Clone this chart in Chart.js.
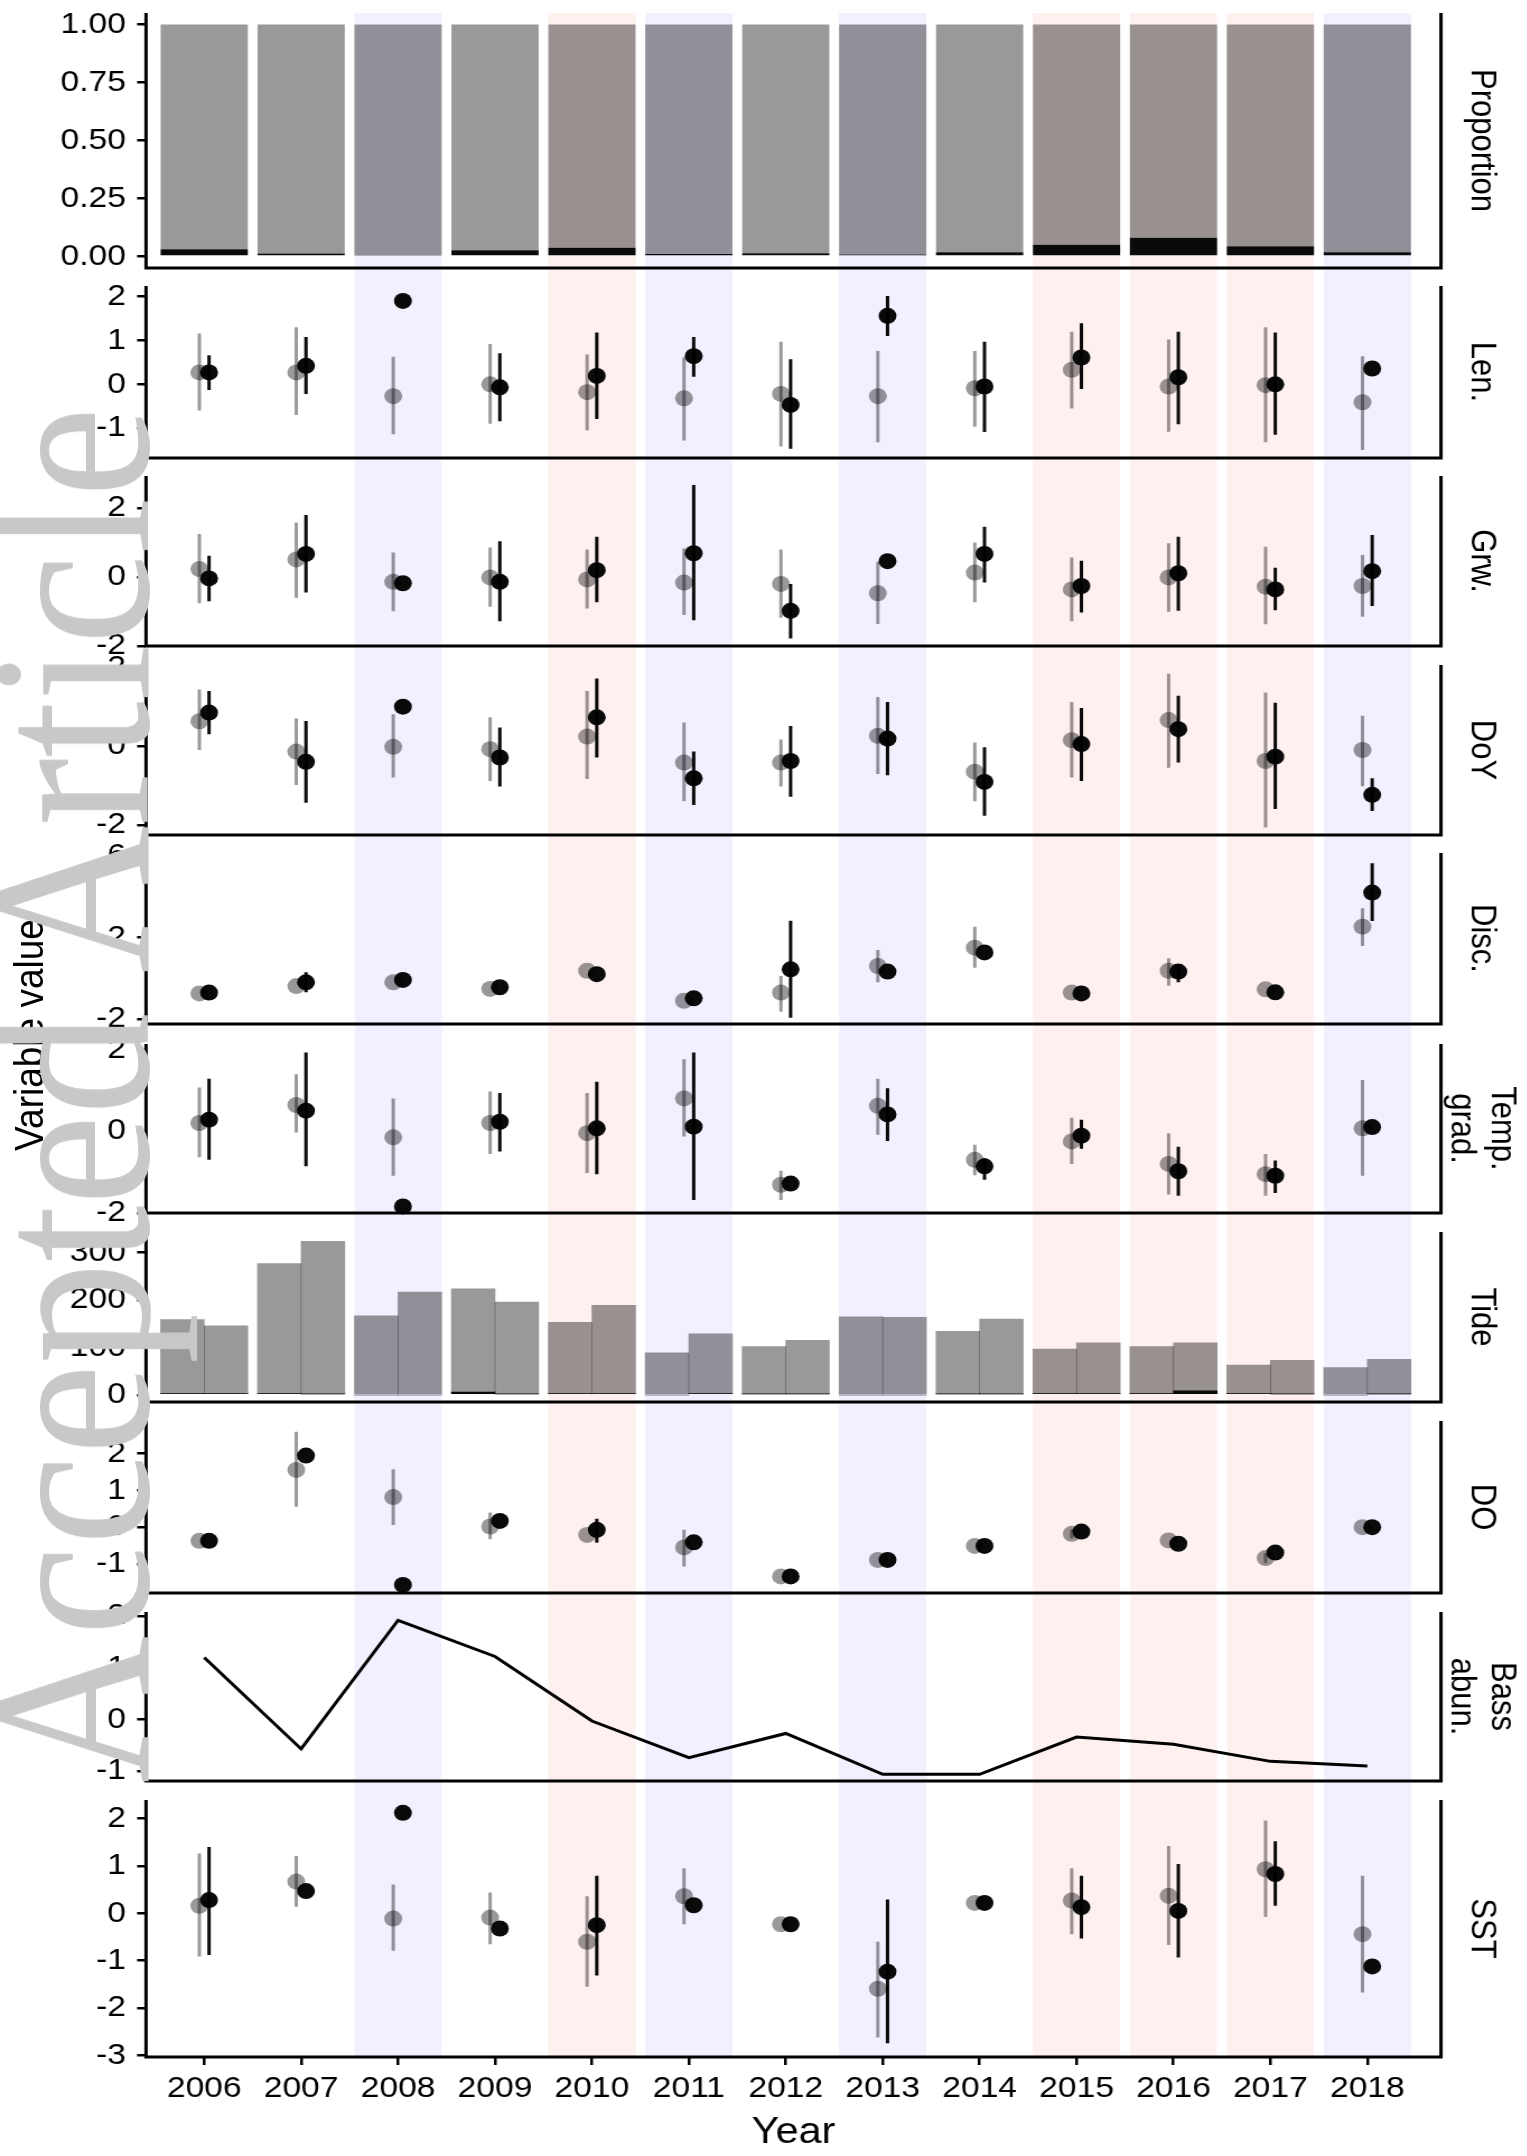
<!DOCTYPE html>
<html>
<head>
<meta charset="utf-8">
<script src="https://cdn.jsdelivr.net/npm/chart.js@4.4.0/dist/chart.umd.min.js"></script>
<style>
html, body { margin: 0; padding: 0; background: #fff; overflow: hidden; }
#fig { position: absolute; left: 0; top: 0; width: 1363px; height: 2156px; transform: scaleX(1.12); transform-origin: 0 0; }
#fig canvas { position: absolute; left: 0; }
.vtext { position: absolute; white-space: nowrap; line-height: 1; transform: translate(-50%, -50%) rotate(-90deg); }
#ytitle { font-family: "Liberation Sans", Arial, sans-serif; font-size: 37px; color: #000; }
#wm { font-family: "Liberation Serif", "Times New Roman", serif; font-size: 204px; color: #c8c8c8; z-index: 5; }
</style>
</head>
<body>
<div id="fig">
  <div id="ytitle" class="vtext" style="left:26px; top:1035px;">Variable value</div>
</div>
<script>
const years = [2006, 2007, 2008, 2009, 2010, 2011, 2012, 2013, 2014, 2015, 2016, 2017, 2018];
const blueYears = [2008, 2011, 2013, 2018];
const redYears = [2010, 2015, 2016, 2017];
const stripLabels = [['Proportion'], ['Len.'], ['Grw.'], ['DoY'], ['Disc.'], ['Temp.', 'grad.'], ['Tide'], ['DO'], ['Bass', 'abun.'], ['SST']];

// Proportion
const propBlack = [0.031, 0.013, 0.006, 0.027, 0.037, 0.010, 0.014, 0.008, 0.018, 0.050, 0.080, 0.044, 0.018];
const propGrey  = [0.969, 0.987, 0.994, 0.973, 0.963, 0.990, 0.986, 0.992, 0.982, 0.950, 0.920, 0.956, 0.982];
const propTicks = [0, 0.25, 0.5, 0.75, 1];

// Len.
const lenGrey    = [0.27, 0.27, -0.27, 0.00, -0.18, -0.32, -0.22, -0.27, -0.09, 0.33, -0.05, -0.02, -0.41];
const lenGreyLo  = [-0.60, -0.70, -1.14, -0.90, -1.05, -1.28, -1.42, -1.32, -0.97, -0.55, -1.08, -1.32, -1.50];
const lenGreyHi  = [1.16, 1.30, 0.63, 0.92, 0.68, 0.61, 0.97, 0.76, 0.76, 1.20, 1.02, 1.30, 0.64];
const lenBlack   = [0.27, 0.42, 1.90, -0.07, 0.19, 0.64, -0.47, 1.56, -0.05, 0.61, 0.16, 0.00, 0.36];
const lenBlackLo = [-0.13, -0.22, null, -0.84, -0.79, 0.17, -1.47, 1.10, -1.09, -0.11, -0.91, -1.15, null];
const lenBlackHi = [0.66, 1.08, null, 0.71, 1.18, 1.08, 0.57, 2.01, 0.97, 1.39, 1.20, 1.18, null];
const lenTicks = [-1, 0, 1, 2];

// Grw.
const grwGrey    = [0.23, 0.51, -0.14, -0.01, -0.07, -0.16, -0.20, -0.47, 0.13, -0.36, -0.01, -0.28, -0.26];
const grwGreyLo  = [-0.76, -0.60, -0.99, -0.86, -0.91, -1.10, -1.18, -1.36, -0.73, -1.28, -1.01, -1.37, -1.15];
const grwGreyHi  = [1.25, 1.58, 0.71, 0.86, 0.80, 0.83, 0.80, 0.44, 1.00, 0.57, 0.98, 0.88, 0.64];
const grwBlack   = [-0.04, 0.67, -0.18, -0.14, 0.20, 0.69, -0.98, 0.46, 0.67, -0.26, 0.11, -0.36, 0.17];
const grwBlackLo = [-0.70, -0.45, null, -1.28, -0.73, -1.25, -1.78, null, -0.16, -1.03, -0.98, -0.96, -0.84];
const grwBlackHi = [0.62, 1.80, null, 1.04, 1.17, 2.67, -0.20, null, 1.46, 0.47, 1.17, 0.27, 1.22];
const grwTicks = [-2, -1, 0, 1, 2];

// DoY
const doyGrey    = [0.63, -0.14, -0.02, -0.08, 0.24, -0.42, -0.42, 0.26, -0.65, 0.15, 0.66, -0.38, -0.10];
const doyGreyLo  = [-0.10, -0.99, -0.80, -0.89, -0.84, -1.40, -1.03, -0.71, -1.40, -0.80, -0.55, -2.07, -1.02];
const doyGreyHi  = [1.44, 0.70, 0.81, 0.73, 1.40, 0.60, 0.17, 1.25, 0.09, 1.12, 1.84, 1.36, 0.77];
const doyBlack   = [0.85, -0.40, 1.00, -0.29, 0.73, -0.82, -0.38, 0.19, -0.91, 0.05, 0.43, -0.27, -1.24];
const doyBlackLo = [0.30, -1.44, null, -1.03, -0.29, -1.50, -1.29, -0.74, -1.77, -0.89, -0.42, -1.60, -1.65];
const doyBlackHi = [1.40, 0.64, null, 0.47, 1.72, -0.14, 0.51, 1.12, -0.03, 0.97, 1.28, 1.10, -0.82];
const doyTicks = [-2, -1, 0, 1, 2];

// Disc.
const discGrey    = [-0.74, -0.38, -0.20, -0.52, 0.37, -1.10, -0.70, 0.60, 1.50, -0.70, 0.37, -0.54, 2.53];
const discGreyLo  = [null, null, null, null, null, null, -1.64, -0.20, 0.52, null, -0.36, null, 1.58];
const discGreyHi  = [null, null, null, null, null, null, 0.11, 1.39, 2.53, null, 0.98, null, 3.43];
const discBlack   = [-0.70, -0.20, -0.08, -0.44, 0.20, -0.98, 0.44, 0.33, 1.27, -0.74, 0.33, -0.69, 4.20];
const discBlackLo = [null, -0.69, null, null, null, null, -1.93, null, null, null, -0.19, null, 2.81];
const discBlackHi = [null, 0.29, null, null, null, null, 2.82, null, null, null, 0.65, null, 5.64];
const discTicks = [-2, 0, 2, 4, 6];

// Temp. grad.
const tempGrey    = [0.20, 0.64, -0.15, 0.20, -0.05, 0.80, -1.31, 0.62, -0.70, -0.25, -0.80, -1.05, 0.07];
const tempGreyLo  = [-0.64, -0.03, -1.09, -0.56, -1.02, -0.13, -1.68, -0.09, -1.08, -0.80, -1.55, -1.58, -1.09];
const tempGreyHi  = [1.07, 1.39, 0.80, 0.97, 0.93, 1.76, -0.97, 1.28, -0.33, 0.33, -0.05, -0.56, 1.25];
const tempBlack   = [0.28, 0.50, -1.84, 0.23, 0.07, 0.11, -1.28, 0.41, -0.86, -0.11, -0.98, -1.09, 0.10];
const tempBlackLo = [-0.70, -0.86, null, -0.50, -1.05, -1.68, null, -0.24, -1.19, -0.43, -1.58, -1.51, null];
const tempBlackHi = [1.28, 1.92, null, 0.93, 1.21, 1.92, null, 1.05, -0.66, 0.28, -0.38, -0.72, null];
const tempTicks = [-2, -1, 0, 1, 2];

// Tide
const tideLeft       = [156, 274, 167, 218, 150, 89, 100, 165, 132, 94, 99, 60, 58];
const tideRight      = [143, 322, 217, 194, 186, 126, 113, 164, 158, 107, 101, 71, 73];
const tideLeftBlack  = [3, 3, 0, 6, 3, 0, 2, 0, 2, 3, 3, 3, 0];
const tideRightBlack = [3, 2, 0, 2, 3, 3, 2, 0, 2, 3, 9, 2, 2];
const tideTicks = [0, 100, 200, 300];

// DO
const doGrey    = [-0.37, 1.56, 0.82, 0.02, -0.21, -0.55, -1.34, -0.89, -0.51, -0.18, -0.36, -0.84, 0.00];
const doGreyLo  = [null, 0.56, 0.06, -0.33, null, -1.07, null, null, null, -0.30, null, -0.98, null];
const doGreyHi  = [null, 2.60, 1.58, 0.40, null, -0.07, null, null, null, -0.06, null, -0.70, null];
const doBlack   = [-0.37, 1.95, -1.57, 0.17, -0.07, -0.41, -1.34, -0.89, -0.51, -0.12, -0.45, -0.69, 0.00];
const doBlackLo = [null, null, null, null, -0.42, null, null, null, null, null, null, null, null];
const doBlackHi = [null, null, null, null, 0.23, null, null, null, null, null, null, null, null];
const doTicks = [-1, 0, 1, 2];

// Bass abun.
const bassAbun = [1.20, -0.57, 1.92, 1.22, -0.03, -0.74, -0.27, -1.06, -1.06, -0.34, -0.48, -0.81, -0.90];
const bassTicks = [-1, 0, 1, 2];

// SST
const sstGrey    = [0.16, 0.67, -0.11, -0.09, -0.60, 0.36, -0.23, -1.59, 0.22, 0.27, 0.37, 0.93, -0.44];
const sstGreyLo  = [-0.91, 0.14, -0.79, -0.65, -1.55, -0.23, null, -2.62, null, -0.44, -0.67, -0.08, -1.67];
const sstGreyHi  = [1.26, 1.21, 0.61, 0.44, 0.36, 0.95, null, -0.60, null, 0.95, 1.42, 1.96, 0.79];
const sstBlack   = [0.28, 0.47, 2.12, -0.32, -0.25, 0.17, -0.23, -1.23, 0.22, 0.13, 0.05, 0.83, -1.12];
const sstBlackLo = [-0.88, null, null, null, -1.31, null, null, -2.74, null, -0.53, -0.93, 0.16, null];
const sstBlackHi = [1.40, null, null, null, 0.79, null, null, 0.29, null, 0.79, 1.04, 1.52, null];
const sstTicks = [-3, -2, -1, 0, 1, 2];

const FONT = '"Liberation Sans", Arial, sans-serif';
const GREY = 'rgba(0,0,0,0.4)';
const BLACK = 'rgba(0,0,0,0.96)';
const BLUE = 'rgb(240,240,255)';
const RED = 'rgb(255,240,240)';
const W = 1363, H = 2156;
const plotLeft = 130.4, plotRight = 1286.6;
const xMin = 2005.4, xMax = 2018.76;
const stripX = 1323;

const panels = [
  {kind: 'prop', top: 13, bottom: 268, min: -0.05, max: 1.05, ticks: propTicks, fmt: v => v.toFixed(2)},
  {kind: 'err', top: 286, bottom: 458, min: -1.68, max: 2.24, ticks: lenTicks,
    grey: [lenGrey, lenGreyLo, lenGreyHi], black: [lenBlack, lenBlackLo, lenBlackHi]},
  {kind: 'err', top: 476, bottom: 646, min: -2.0, max: 2.93, ticks: grwTicks,
    grey: [grwGrey, grwGreyLo, grwGreyHi], black: [grwBlack, grwBlackLo, grwBlackHi]},
  {kind: 'err', top: 665, bottom: 835, min: -2.26, max: 2.06, ticks: doyTicks,
    grey: [doyGrey, doyGreyLo, doyGreyHi], black: [doyBlack, doyBlackLo, doyBlackHi]},
  {kind: 'err', top: 853, bottom: 1024, min: -2.24, max: 6.14, ticks: discTicks,
    grey: [discGrey, discGreyLo, discGreyHi], black: [discBlack, discBlackLo, discBlackHi]},
  {kind: 'err', top: 1044, bottom: 1213, min: -2.0, max: 2.13, ticks: tempTicks,
    grey: [tempGrey, tempGreyLo, tempGreyHi], black: [tempBlack, tempBlackLo, tempBlackHi]},
  {kind: 'tide', top: 1232, bottom: 1402, min: -14.8, max: 343.7, ticks: tideTicks},
  {kind: 'err', top: 1421, bottom: 1593, min: -1.79, max: 2.89, ticks: doTicks,
    grey: [doGrey, doGreyLo, doGreyHi], black: [doBlack, doBlackLo, doBlackHi]},
  {kind: 'line', top: 1612, bottom: 1781, min: -1.19, max: 2.08, ticks: bassTicks},
  {kind: 'err', top: 1800, bottom: 2057, min: -3.03, max: 2.39, ticks: sstTicks,
    grey: [sstGrey, sstGreyLo, sstGreyHi], black: [sstBlack, sstBlackLo, sstBlackHi]}
];

const panelDeco = {
  id: 'panelDeco',
  beforeDatasetsDraw(chart, args, o) {
    const {ctx, chartArea: a} = chart;
    const xs = chart.scales.x;
    const y0 = o.first ? a.top : 0;
    const y1 = o.last ? a.bottom : chart.height;
    ctx.save();
    const band = (list, col) => list.forEach(yr => {
      const l = xs.getPixelForValue(yr - 0.45), r = xs.getPixelForValue(yr + 0.45);
      ctx.fillStyle = col;
      ctx.fillRect(l, y0, r - l, y1 - y0);
    });
    band(blueYears, BLUE);
    band(redYears, RED);
    ctx.restore();
  },
  afterDraw(chart, args, o) {
    const {ctx, chartArea: a} = chart;
    ctx.save();
    ctx.strokeStyle = '#000';
    ctx.lineWidth = 3;
    ctx.beginPath();
    ctx.moveTo(a.left, a.top);
    ctx.lineTo(a.left, a.bottom);
    ctx.lineTo(a.right, a.bottom);
    ctx.lineTo(a.right, a.top);
    ctx.stroke();
    ctx.fillStyle = '#000';
    ctx.font = '31px ' + FONT;
    ctx.textAlign = 'center';
    ctx.textBaseline = 'middle';
    ctx.translate(stripX, (a.top + a.bottom) / 2);
    ctx.rotate(Math.PI / 2);
    const n = o.strip.length;
    o.strip.forEach((t, i) => ctx.fillText(t, 0, (i - (n - 1) / 2) * 36));
    ctx.restore();
  }
};

function pointSet(mid, off, col) {
  return {
    type: 'line', showLine: false, clip: false,
    data: years.map((y, i) => ({x: y + off, y: mid[i]})),
    pointRadius: 8, pointHoverRadius: 8, pointBorderWidth: 0,
    pointBackgroundColor: col, borderColor: col
  };
}

function rangeSet(lo, hi, off, col) {
  const pts = [];
  years.forEach((y, i) => {
    if (lo[i] === null) return;
    pts.push({x: y + off, y: lo[i]}, {x: y + off, y: hi[i]}, {x: y + off, y: null});
  });
  return {
    type: 'line', data: pts, clip: false, spanGaps: false,
    borderColor: col, borderWidth: 3, pointRadius: 0, borderCapStyle: 'butt'
  };
}

function barSet(xs, vals, col, pct) {
  return {
    type: 'bar', data: xs.map((x, i) => ({x: x, y: vals[i]})),
    backgroundColor: col, borderWidth: 0, barPercentage: pct, categoryPercentage: 1
  };
}

function yAxis(p) {
  return {
    type: 'linear', min: p.min, max: p.max, stacked: p.kind === 'prop' || p.kind === 'tide',
    afterBuildTicks: s => { s.ticks = p.ticks.map(v => ({value: v})); },
    afterFit: s => { s.width = plotLeft; s.paddingTop = 0; s.paddingBottom = 0; },
    grid: {drawOnChartArea: false, drawTicks: true, tickLength: 8, color: '#000', lineWidth: 2.5},
    border: {display: false},
    ticks: {color: '#000', padding: 10, font: {family: FONT, size: 30}, callback: p.fmt || (v => String(v))}
  };
}

function xAxis(p, isLast, h) {
  const ax = {
    type: 'linear', min: xMin, max: xMax, offset: false, display: isLast,
    stacked: p.kind === 'prop' || p.kind === 'tide',
    afterBuildTicks: s => { s.ticks = years.map(v => ({value: v})); },
    grid: {offset: false, drawOnChartArea: false, drawTicks: true, tickLength: 8, color: '#000', lineWidth: 2.5},
    border: {display: false},
    ticks: {autoSkip: false, maxRotation: 0, minRotation: 0, padding: 6, color: '#000',
      font: {family: FONT, size: 30}, callback: v => String(v)},
    title: {display: isLast, text: 'Year', color: '#000', font: {family: FONT, size: 37}, padding: {top: 0, bottom: 1}}
  };
  if (isLast) ax.afterFit = s => { s.height = h; s.paddingLeft = 0; s.paddingRight = 0; };
  return ax;
}

function datasetsFor(p) {
  if (p.kind === 'prop') {
    return [barSet(years, propBlack, BLACK, 0.9), barSet(years, propGrey, GREY, 0.9)];
  }
  if (p.kind === 'tide') {
    const xs = [], g = [], b = [];
    years.forEach((y, i) => {
      xs.push(y - 0.225, y + 0.225);
      g.push(tideLeft[i], tideRight[i]);
      b.push(tideLeftBlack[i], tideRightBlack[i]);
    });
    return [barSet(xs, b, BLACK, 1), barSet(xs, g, GREY, 1)];
  }
  if (p.kind === 'line') {
    return [{type: 'line', data: years.map((y, i) => ({x: y, y: bassAbun[i]})),
      borderColor: '#000', borderWidth: 3, pointRadius: 0, tension: 0, clip: false}];
  }
  return [
    pointSet(p.black[0], 0.05, BLACK),
    rangeSet(p.black[1], p.black[2], 0.05, BLACK),
    pointSet(p.grey[0], -0.05, GREY),
    rangeSet(p.grey[1], p.grey[2], -0.05, GREY)
  ];
}

const fig = document.getElementById('fig');
const cuts = panels.map((p, i) => i === 0 ? 0 : Math.round((panels[i - 1].bottom + p.top) / 2));
cuts.push(H);

panels.forEach((p, i) => {
  const isLast = i === panels.length - 1;
  const c0 = cuts[i], c1 = cuts[i + 1];
  const cv = document.createElement('canvas');
  cv.width = W;
  cv.height = c1 - c0;
  cv.style.top = c0 + 'px';
  cv.style.width = W + 'px';
  cv.style.height = (c1 - c0) + 'px';
  fig.appendChild(cv);
  new Chart(cv, {
    type: (p.kind === 'prop' || p.kind === 'tide') ? 'bar' : 'line',
    data: {datasets: datasetsFor(p)},
    options: {
      responsive: false, animation: false, devicePixelRatio: 1, events: [],
      layout: {autoPadding: false, padding: {left: 0, right: W - plotRight, top: p.top - c0, bottom: isLast ? 0 : c1 - p.bottom}},
      plugins: {
        legend: {display: false}, tooltip: {enabled: false},
        panelDeco: {first: i === 0, last: isLast, strip: stripLabels[i]}
      },
      scales: {x: xAxis(p, isLast, c1 - p.bottom), y: yAxis(p)}
    },
    plugins: [panelDeco]
  });
});

const wm = document.createElement('div');
wm.id = 'wm';
wm.className = 'vtext';
wm.style.left = '63px';
wm.style.top = '1095px';
wm.textContent = 'Accepted Article';
fig.appendChild(wm);
</script>
</body>
</html>
